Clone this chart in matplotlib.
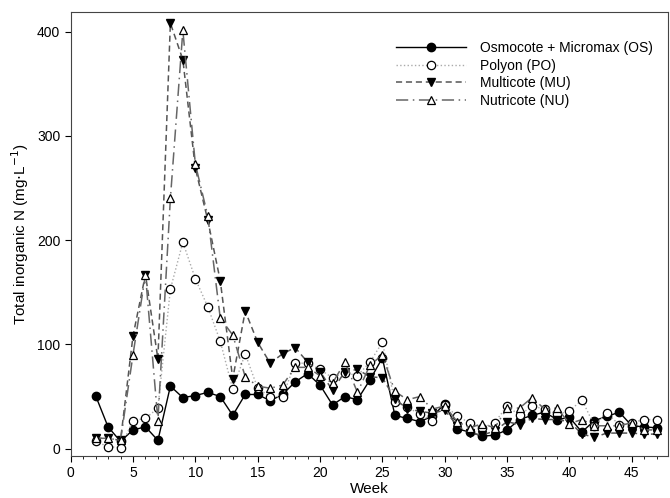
import numpy as np
import matplotlib
matplotlib.use('Agg')
import matplotlib.pyplot as plt
from matplotlib.ticker import MultipleLocator

plt.rcParams['font.family'] = ['Liberation Sans', 'DejaVu Sans']

weeks = np.arange(2, 48)

# Osmocote + Micromax
os_vals = [51, 21, 7, 18, 21, 8, 60, 49, 51, 54, 50, 32, 52, 52, 46, 52, 64, 72, 61, 42,
           50, 47, 66, 87, 32, 29, 26, 31, 43, 19, 16, 12, 13, 18, 28, 32, 35, 28, 30, 16,
           27, 31, 35, 22, 21, 20]
# Polyon
po_vals = [7, 2, 1, 27, 29, 39, 153, 198, 163, 136, 103, 57, 91, 58, 50, 50, 82, 82, 76, 68,
           73, 70, 83, 102, 45, 40, 33, 27, 42, 31, 25, 20, 25, 41, 32, 41, 38, 33, 36, 47,
           22, 34, 23, 25, 28, 28]
# Multicote
mu_vals = [10, 10, 8, 108, 167, 86, 408, 373, 269, 219, 161, 67, 132, 102, 82, 91, 97, 83, 74, 56,
           74, 76, 69, 68, 48, 38, 36, 34, 37, 22, 15, 13, 17, 26, 23, 29, 28, 28, 26, 14,
           11, 15, 15, 15, 14, 14]
# Nutricote
nu_vals = [10, 10, 8, 90, 167, 27, 240, 401, 273, 223, 125, 109, 69, 60, 58, 61, 78, 78, 70, 63,
           83, 54, 80, 90, 55, 47, 50, 38, 41, 26, 20, 24, 20, 39, 39, 49, 38, 39, 24, 28,
           22, 22, 22, 25, 18, 18]

fig = plt.figure(figsize=(6.7, 4.98), dpi=100)
ax = fig.add_axes([0.1054, 0.0843, 0.8916, 0.8922])

ax.plot(weeks, os_vals, '-', color='black', lw=1.0, marker='o', ms=6,
        mfc='black', mec='black', label='Osmocote + Micromax (OS)')
ax.plot(weeks, po_vals, ':', color='#aaaaaa', lw=1.0, marker='o', ms=6,
        mfc='white', mec='black', mew=0.9, label='Polyon (PO)')
ax.plot(weeks, mu_vals, '--', color='#555555', lw=1.1, marker='v', ms=6,
        mfc='black', mec='black', dashes=(4, 2.5), label='Multicote (MU)')
ax.plot(weeks, nu_vals, '-.', color='#666666', lw=1.1, marker='^', ms=6,
        mfc='white', mec='black', mew=0.9, dashes=(8, 3, 1, 3), label='Nutricote (NU)')

ax.set_xlim(0, 47.9)
ax.set_ylim(-7, 419)
ax.xaxis.set_major_locator(MultipleLocator(5))
ax.xaxis.set_minor_locator(MultipleLocator(1))
ax.yaxis.set_major_locator(MultipleLocator(100))
ax.tick_params(axis='both', which='major', direction='out', length=4, labelsize=10)
ax.tick_params(axis='x', which='minor', direction='out', length=2)
for s in ax.spines.values():
    s.set_color('#444444')

ax.set_xlabel('Week', fontsize=11, labelpad=1)
ax.set_ylabel('Total inorganic N (mg$\\cdot$L$^{-1}$)', fontsize=11)

leg = ax.legend(loc='upper right', bbox_to_anchor=(0.995, 0.962), frameon=False,
                fontsize=10, handlelength=5, numpoints=1, labelspacing=0.25,
                handletextpad=1.0)

fig.savefig('out.png', dpi=100)
